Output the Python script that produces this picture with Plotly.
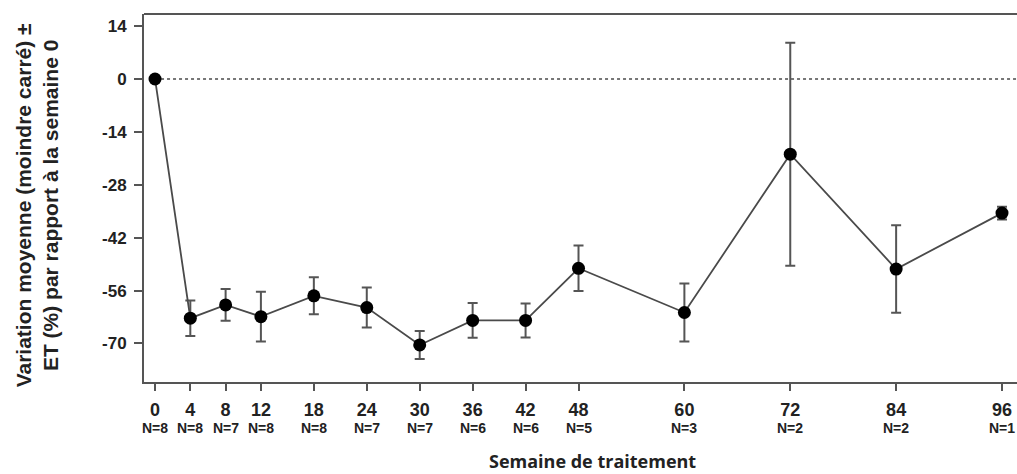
import plotly.graph_objects as go

weeks = [0, 4, 8, 12, 18, 24, 30, 36, 42, 48, 60, 72, 84, 96]
n_labels = ["N=8", "N=8", "N=7", "N=8", "N=8", "N=7", "N=7", "N=6", "N=6", "N=5", "N=3", "N=2", "N=2", "N=1"]
mean_change = [0, -63.3, -59.8, -62.9, -57.4, -60.5, -70.4, -63.9, -63.9, -50.1, -61.8, -19.9, -50.3, -35.5]
se_change = [0, 4.7, 4.2, 6.6, 4.9, 5.3, 3.7, 4.6, 4.5, 6.0, 7.7, 29.5, 11.6, 1.7]
y_ticks = [14, 0, -14, -28, -42, -56, -70]

font_main = "Liberation Sans, Arial, sans-serif"

fig = go.Figure()
fig.add_trace(go.Scatter(
    x=weeks, y=mean_change,
    mode="lines+markers",
    line=dict(color="#4a4a4a", width=1.8),
    marker=dict(color="black", size=13),
    error_y=dict(type="data", array=se_change, visible=True,
                 color="#555555", thickness=2, width=5),
    showlegend=False,
))

# dotted reference line at 0
fig.add_shape(type="line", xref="x", yref="y", x0=0, x1=97.7, y0=0, y1=0,
              line=dict(color="#777777", width=2, dash="dot"), layer="below")
# top frame line
fig.add_shape(type="line", xref="paper", yref="paper", x0=0, x1=1, y0=1, y1=1,
              line=dict(color="#555555", width=2))

for w, n in zip(weeks, n_labels):
    fig.add_annotation(x=w, xref="x", y=0, yref="paper", yshift=-46,
                       text=f"<b>{n}</b>", showarrow=False,
                       font=dict(family=font_main, size=14, color="#222222"),
                       xanchor="center", yanchor="middle")

# x-axis title
fig.add_annotation(x=0.514, xref="paper", y=0, yref="paper", yshift=-79,
                   text="<b>Semaine de traitement</b>", showarrow=False,
                   font=dict(family="Open Sans, sans-serif", size=18, color="#222222"),
                   xanchor="center", yanchor="middle")
# y-axis title
fig.add_annotation(x=0, xref="paper", y=0.48, yref="paper", xshift=-107,
                   text="<b>Variation moyenne (moindre carré) ±<br>ET (%) par rapport à la semaine 0</b>",
                   showarrow=False, textangle=-90,
                   font=dict(family=font_main, size=21, color="#222222"),
                   xanchor="center", yanchor="middle")

fig.update_layout(
    width=1017, height=474,
    margin=dict(l=144, r=0, t=14, b=92),
    paper_bgcolor="white", plot_bgcolor="white",
    font=dict(family=font_main, color="#222222"),
    xaxis=dict(
        range=[-1.25, 97.7], automargin=False,
        tickmode="array", tickvals=weeks,
        ticktext=[f"<b>{w}</b>" for w in weeks],
        tickfont=dict(family=font_main, size=18, color="#222222"),
        ticks="outside", ticklen=7, tickwidth=2, tickcolor="#555555",
        ticklabelstandoff=3,
        showline=True, linecolor="#555555", linewidth=2,
        showgrid=False, zeroline=False,
    ),
    yaxis=dict(
        range=[-80.2, 17.2], automargin=False,
        tickmode="array", tickvals=y_ticks,
        ticktext=[f"<b>{t}</b>" for t in y_ticks],
        tickfont=dict(family=font_main, size=17, color="#222222"),
        ticks="outside", ticklen=8, tickwidth=2, tickcolor="#555555",
        ticklabelstandoff=4,
        showline=True, linecolor="#555555", linewidth=2,
        showgrid=False, zeroline=False,
    ),
)

fig.write_html("out.html",
               config={"displayModeBar": False},
               post_script="document.body.style.margin='0';document.body.style.overflow='hidden';")
